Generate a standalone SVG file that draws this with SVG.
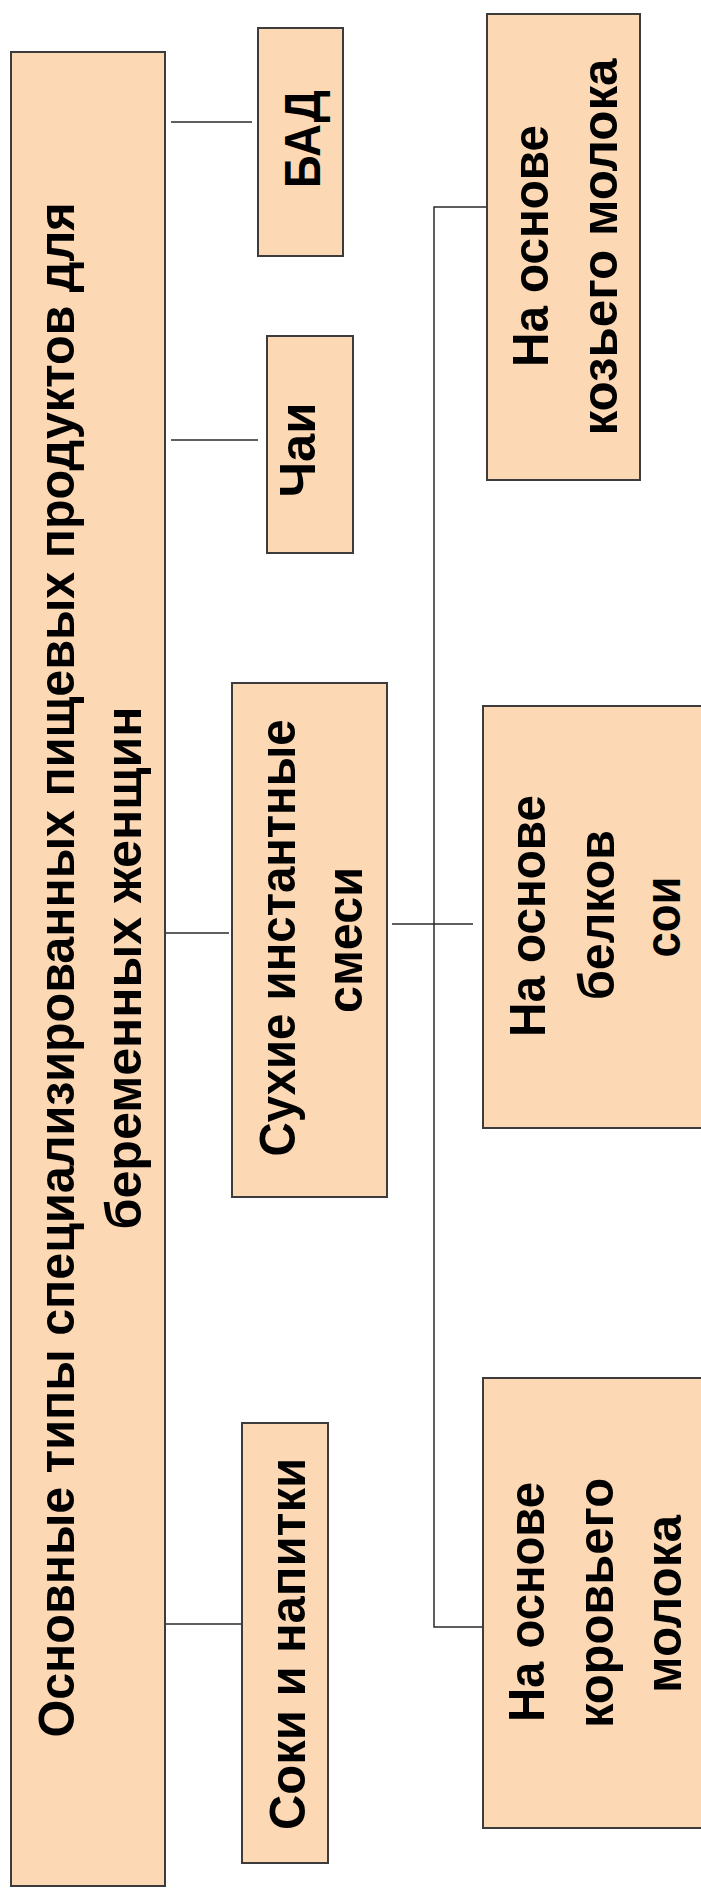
<svg xmlns="http://www.w3.org/2000/svg" width="701" height="1899" viewBox="0 0 701 1899">
<style>
.box{fill:#FCD8B4;stroke:#3c3c3c;stroke-width:2}
.t{font-family:"Liberation Sans",Arial,sans-serif;font-weight:bold;font-size:50px;fill:#000;text-anchor:middle}
.c{fill:none;stroke:#2a2a2a;stroke-width:1.5}
</style>
<rect width="701" height="1899" fill="#fff"/>
<g id="connectors">
<path class="c" d="M171 122H252"/>
<path class="c" d="M171 440H258"/>
<path class="c" d="M163 933H229"/>
<path class="c" d="M160 1624H241"/>
<path class="c" d="M392 924H473"/>
<path class="c" d="M487 207H434V1627H483"/>
</g>
<g id="main">
<rect class="box" x="11" y="52" width="154" height="1834"/>
<text class="t" transform="translate(74,970) rotate(-90)" textLength="1535" lengthAdjust="spacingAndGlyphs">Основные типы специализированных пищевых продуктов для</text>
<text class="t" transform="translate(141,968) rotate(-90)" textLength="523" lengthAdjust="spacingAndGlyphs">беременных женщин</text>
</g>
<g id="bad">
<rect class="box" x="258" y="28" width="85" height="228"/>
<text class="t" transform="translate(320,139) rotate(-90)" textLength="98" lengthAdjust="spacingAndGlyphs">БАД</text>
</g>
<g id="chai">
<rect class="box" x="267" y="336" width="86" height="217"/>
<text class="t" transform="translate(315,450) rotate(-90)" textLength="95" lengthAdjust="spacingAndGlyphs">Чаи</text>
</g>
<g id="dry">
<rect class="box" x="232" y="683" width="155" height="514"/>
<text class="t" transform="translate(295,938) rotate(-90)" textLength="437" lengthAdjust="spacingAndGlyphs">Сухие инстантные</text>
<text class="t" transform="translate(362,940) rotate(-90)" textLength="146" lengthAdjust="spacingAndGlyphs">смеси</text>
</g>
<g id="juice">
<rect class="box" x="242" y="1423" width="86" height="440"/>
<text class="t" transform="translate(305,1644) rotate(-90)" textLength="372" lengthAdjust="spacingAndGlyphs">Соки и напитки</text>
</g>
<g id="goat">
<rect class="box" x="487" y="14" width="153" height="466"/>
<text class="t" transform="translate(548,246) rotate(-90)" textLength="242" lengthAdjust="spacingAndGlyphs">На основе</text>
<text class="t" transform="translate(617,247) rotate(-90)" textLength="377" lengthAdjust="spacingAndGlyphs">козьего молока</text>
</g>
<g id="soy">
<rect class="box" x="483" y="706" width="225" height="422"/>
<text class="t" transform="translate(545,916) rotate(-90)" textLength="242" lengthAdjust="spacingAndGlyphs">На основе</text>
<text class="t" transform="translate(614,915) rotate(-90)" textLength="170" lengthAdjust="spacingAndGlyphs">белков</text>
<text class="t" transform="translate(680,917) rotate(-90)" textLength="81" lengthAdjust="spacingAndGlyphs">сои</text>
</g>
<g id="cow">
<rect class="box" x="483" y="1378" width="225" height="450"/>
<text class="t" transform="translate(544,1602) rotate(-90)" textLength="240" lengthAdjust="spacingAndGlyphs">На основе</text>
<text class="t" transform="translate(613,1603) rotate(-90)" textLength="250" lengthAdjust="spacingAndGlyphs">коровьего</text>
<text class="t" transform="translate(681,1604) rotate(-90)" textLength="178" lengthAdjust="spacingAndGlyphs">молока</text>
</g>
</svg>
